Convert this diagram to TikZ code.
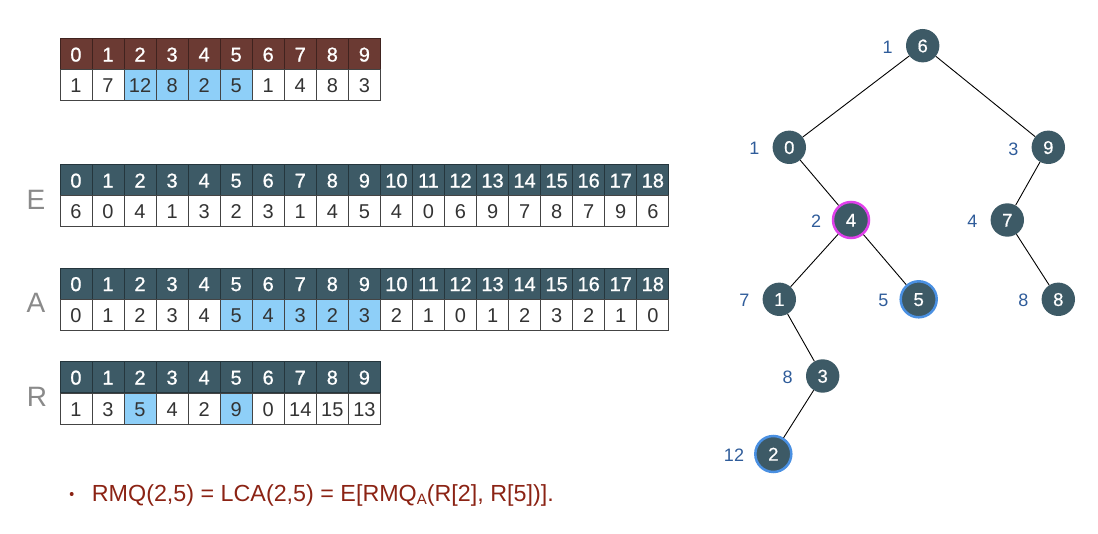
\documentclass[tikz,border=0pt]{standalone}
\usepackage{fontspec}
\setmainfont{Liberation Sans}
\newfontfamily\medfont[FakeBold=0.9]{Liberation Sans}
\newfontfamily\semifont[FakeBold=0.5]{Liberation Sans}
\definecolor{hdr}{HTML}{3D5A66}
\definecolor{hdrb}{HTML}{6B3A33}
\definecolor{hl}{HTML}{8ECFF8}
\definecolor{txt}{HTML}{333333}
\definecolor{cellline}{HTML}{444444}
\definecolor{lbl}{HTML}{2F5C9A}
\definecolor{ringblue}{HTML}{4A90E2}
\definecolor{ringmag}{HTML}{E040EA}
\definecolor{formred}{HTML}{8B2314}
\definecolor{arrlbl}{HTML}{8A8A8A}
\begin{document}
\begin{tikzpicture}[x=1pt,y=-1pt,
  cell/.style={draw=cellline, line width=0.8pt, minimum width=32.05pt, minimum height=31pt,
    inner sep=0pt, anchor=north west, text height=14.3pt, text depth=0pt,
    font=\fontsize{20}{20}\selectfont, text=txt},
  plainc/.style={fill=white},
  hlc/.style={fill=hl},
  hcell/.style={cell, fill=hdr, draw=hdr!60!black, text=white, font=\fontsize{20}{20}\medfont},
  bcell/.style={cell, fill=hdrb, draw=hdrb!60!black, text=white, font=\fontsize{20}{20}\medfont},
  arrname/.style={text=arrlbl, font=\fontsize{28}{28}\selectfont, inner sep=0pt},
  tn/.style={circle, fill=hdr, text=white, minimum size=33.4pt, inner sep=0pt,
    text height=13.3pt, text depth=0pt, font=\fontsize{18.5}{18.5}\semifont},
  tnblue/.style={tn, draw=ringblue, line width=2.5pt, minimum size=36pt},
  tnmag/.style={tn, draw=ringmag, line width=2.5pt, minimum size=36pt},
  tl/.style={text=lbl, inner sep=0pt, text height=12.9pt, text depth=0pt, font=\fontsize{18}{18}\selectfont},
  edge/.style={draw=black, line width=0.9pt}]
\useasboundingbox (0,0) rectangle (1098,534);

% ---- top array
\foreach \v [count=\i from 0] in {0,...,9}
  \node[bcell] (th\i) at ({59.5+32.05*\i},38.5) {\v};
\foreach \v/\s [count=\i from 0] in {1/plainc,7/plainc,12/hlc,8/hlc,2/hlc,5/hlc,1/plainc,4/plainc,8/plainc,3/plainc}
  \node[cell,\s] (tv\i) at ({59.5+32.05*\i},69.5) {\v};

% ---- E
\node[arrname] (Elbl) at (36,200) {E};
\foreach \v [count=\i from 0] in {0,...,18}
  \node[hcell] (eh\i) at ({59.5+32.05*\i},164.5) {\v};
\foreach \v [count=\i from 0] in {6,0,4,1,3,2,3,1,4,5,4,0,6,9,7,8,7,9,6}
  \node[cell,plainc] (ev\i) at ({59.5+32.05*\i},195.5) {\v};

% ---- A
\node[arrname] (Albl) at (36,303) {A};
\foreach \v [count=\i from 0] in {0,...,18}
  \node[hcell] (ah\i) at ({59.5+32.05*\i},268) {\v};
\foreach \v/\s [count=\i from 0] in {0/plainc,1/plainc,2/plainc,3/plainc,4/plainc,5/hlc,4/hlc,3/hlc,2/hlc,3/hlc,2/plainc,1/plainc,0/plainc,1/plainc,2/plainc,3/plainc,2/plainc,1/plainc,0/plainc}
  \node[cell,\s] (av\i) at ({59.5+32.05*\i},299) {\v};

% ---- R
\node[arrname] (Rlbl) at (37,397) {R};
\foreach \v [count=\i from 0] in {0,...,9}
  \node[hcell] (rh\i) at ({59.5+32.05*\i},361.5) {\v};
\foreach \v/\s [count=\i from 0] in {1/plainc,3/plainc,5/hlc,4/plainc,2/plainc,9/hlc,0/plainc,14/plainc,15/plainc,13/plainc}
  \node[cell,\s] (rv\i) at ({59.5+32.05*\i},393) {\v};

% ---- tree
\node[tn] (n6) at (922.7,45.7) {6};
\node[tn] (n0) at (789.3,147.3) {0};
\node[tn] (n9) at (1048.3,147.3) {9};
\node[tnmag] (n4) at (851,220) {4};
\node[tn] (n7) at (1007.3,220) {7};
\node[tn] (n1) at (779.3,299.3) {1};
\node[tnblue] (n5) at (918.7,299.3) {5};
\node[tn] (n8) at (1058.3,299.3) {8};
\node[tn] (n3) at (822.7,376) {3};
\node[tnblue] (n2) at (773.3,454) {2};

\node[tl] (l6) at (887.7,46.7) {1};
\node[tl] (l0) at (754.3,148) {1};
\node[tl] (l9) at (1013.3,149) {3};
\node[tl] (l4) at (816,221) {2};
\node[tl] (l7) at (972.3,221) {4};
\node[tl] (l1) at (744.3,300) {7};
\node[tl] (l5) at (883.3,300) {5};
\node[tl] (l8) at (1023.3,300) {8};
\node[tl] (l3) at (787.7,377) {8};
\node[tl] (l2) at (734,455) {12};

\draw[edge] (n6) -- (n0);
\draw[edge] (n6) -- (n9);
\draw[edge] (n0) -- (n4);
\draw[edge] (n9) -- (n7);
\draw[edge] (n4) -- (n1);
\draw[edge] (n4) -- (n5);
\draw[edge] (n7) -- (n8);
\draw[edge] (n1) -- (n3);
\draw[edge] (n3) -- (n2);

% ---- formula
\node[circle, fill=formred, inner sep=0pt, minimum size=4pt] (bul) at (71.7,494) {};
\node[anchor=base west, inner sep=0pt, text=formred, font=\fontsize{23.3}{23.3}\selectfont] (form) at (91.7,501.7)
  {RMQ(2,5) = LCA(2,5) = E[RMQ{\fontsize{15}{15}\selectfont\raisebox{-3pt}{A}}(R[2], R[5])].};
\end{tikzpicture}
\end{document}
